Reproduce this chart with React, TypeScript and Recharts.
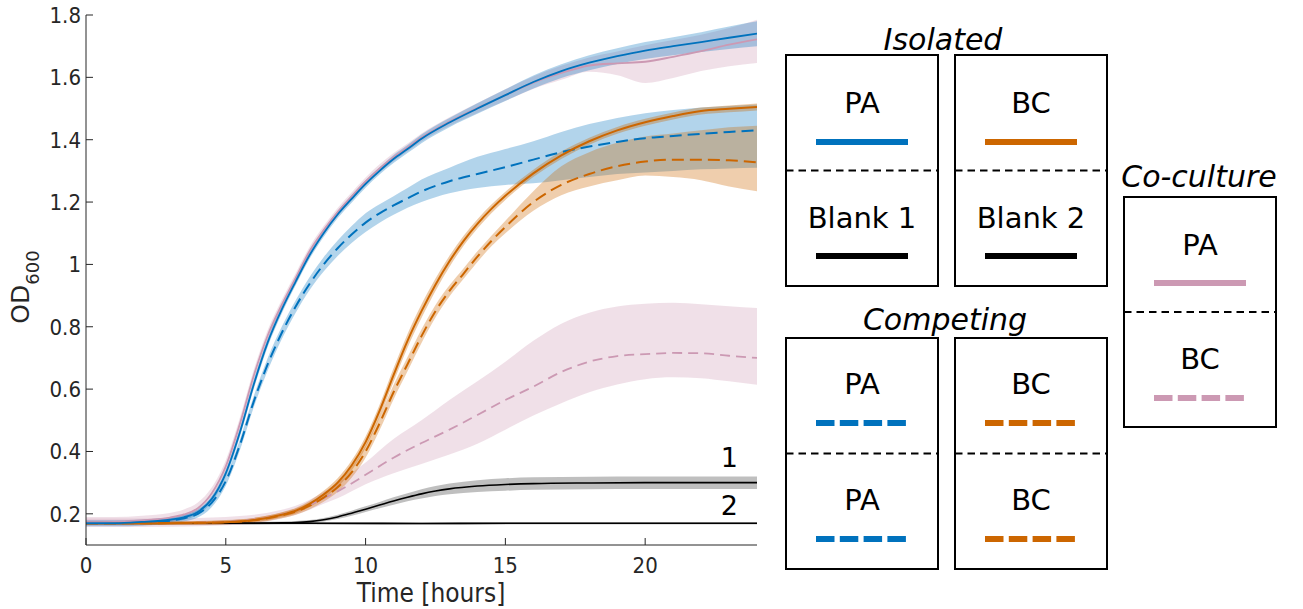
import React from 'react';
import { ComposedChart, Line, Area, XAxis, YAxis } from 'recharts';

// ---------- data ----------
const xTicks = [0, 5, 10, 15, 20];
const yTicks = [0.2, 0.4, 0.6, 0.8, 1.0, 1.2, 1.4, 1.6, 1.8];

// PA series time grid
const tPA = [0, 1, 2, 3, 3.5, 4, 4.5, 5, 5.5, 6, 6.5, 7, 7.5, 8, 8.5, 9, 9.5, 10, 10.5, 11, 11.5, 12, 13, 14, 15, 16, 17, 18, 19, 20, 21, 22, 23, 24];
// Isolated PA (blue solid)
const paIso = [0.17, 0.17, 0.174, 0.181, 0.189, 0.206, 0.248, 0.33, 0.46, 0.615, 0.75, 0.855, 0.945, 1.03, 1.1, 1.16, 1.21, 1.258, 1.3, 1.338, 1.37, 1.403, 1.455, 1.5, 1.543, 1.585, 1.62, 1.647, 1.668, 1.686, 1.7, 1.713, 1.727, 1.74];
const paIsoSpread = [0.006, 0.006, 0.006, 0.007, 0.008, 0.009, 0.01, 0.012, 0.014, 0.015, 0.014, 0.013, 0.012, 0.012, 0.012, 0.012, 0.012, 0.012, 0.012, 0.013, 0.013, 0.014, 0.015, 0.017, 0.019, 0.021, 0.022, 0.024, 0.025, 0.027, 0.029, 0.032, 0.036, 0.04];
// Co-culture PA (pink solid)
const paCo = [0.173, 0.174, 0.179, 0.188, 0.198, 0.218, 0.266, 0.352, 0.487, 0.643, 0.772, 0.87, 0.957, 1.043, 1.11, 1.168, 1.218, 1.266, 1.308, 1.344, 1.375, 1.407, 1.458, 1.502, 1.543, 1.583, 1.614, 1.638, 1.645, 1.65, 1.666, 1.684, 1.705, 1.722];
const paCoHi = [0.19, 0.19, 0.194, 0.203, 0.214, 0.236, 0.285, 0.372, 0.507, 0.662, 0.79, 0.886, 0.972, 1.057, 1.123, 1.181, 1.231, 1.279, 1.321, 1.357, 1.388, 1.42, 1.472, 1.518, 1.562, 1.603, 1.637, 1.664, 1.683, 1.703, 1.72, 1.737, 1.758, 1.785];
const paCoLo = [0.163, 0.163, 0.166, 0.174, 0.183, 0.201, 0.248, 0.333, 0.468, 0.625, 0.756, 0.856, 0.943, 1.029, 1.097, 1.155, 1.205, 1.253, 1.295, 1.331, 1.362, 1.394, 1.444, 1.486, 1.525, 1.563, 1.592, 1.618, 1.607, 1.582, 1.598, 1.62, 1.636, 1.646];
// Competing PA (blue dashed)
const paComp = [0.17, 0.17, 0.172, 0.178, 0.186, 0.2, 0.236, 0.305, 0.42, 0.56, 0.68, 0.78, 0.865, 0.938, 1.0, 1.052, 1.096, 1.134, 1.164, 1.189, 1.212, 1.234, 1.267, 1.29, 1.312, 1.336, 1.36, 1.378, 1.393, 1.405, 1.412, 1.419, 1.425, 1.43];
const paCompHi = [0.18, 0.18, 0.182, 0.19, 0.198, 0.213, 0.25, 0.32, 0.437, 0.578, 0.7, 0.8, 0.885, 0.96, 1.023, 1.077, 1.123, 1.164, 1.193, 1.219, 1.245, 1.272, 1.31, 1.345, 1.37, 1.395, 1.425, 1.45, 1.47, 1.485, 1.495, 1.503, 1.508, 1.513];
const paCompLo = [0.16, 0.16, 0.162, 0.168, 0.175, 0.188, 0.222, 0.29, 0.403, 0.542, 0.66, 0.76, 0.845, 0.918, 0.977, 1.027, 1.069, 1.104, 1.134, 1.159, 1.182, 1.2, 1.228, 1.245, 1.255, 1.26, 1.27, 1.28, 1.29, 1.295, 1.3, 1.305, 1.308, 1.31];

// BC series time grid
const tBC = [0, 2, 4, 5, 6, 7, 7.5, 8, 8.5, 9, 9.5, 10, 10.5, 11, 11.5, 12, 12.5, 13, 13.5, 14, 14.5, 15, 16, 17, 18, 19, 20, 21, 22, 23, 24];
// Isolated BC (orange solid)
const bcIso = [0.17, 0.17, 0.171, 0.173, 0.18, 0.197, 0.21, 0.232, 0.262, 0.3, 0.355, 0.43, 0.53, 0.645, 0.755, 0.85, 0.935, 1.01, 1.075, 1.13, 1.178, 1.22, 1.292, 1.35, 1.395, 1.43, 1.456, 1.476, 1.492, 1.499, 1.505];
const bcIsoSpread = [0.005, 0.005, 0.005, 0.006, 0.007, 0.008, 0.009, 0.01, 0.012, 0.014, 0.016, 0.018, 0.02, 0.022, 0.022, 0.022, 0.02, 0.018, 0.016, 0.015, 0.014, 0.013, 0.012, 0.012, 0.011, 0.011, 0.011, 0.011, 0.011, 0.011, 0.011];
// Competing BC (orange dashed)
const bcComp = [0.17, 0.17, 0.171, 0.173, 0.179, 0.195, 0.207, 0.226, 0.252, 0.285, 0.333, 0.4, 0.49, 0.59, 0.68, 0.77, 0.85, 0.915, 0.97, 1.025, 1.075, 1.12, 1.2, 1.255, 1.29, 1.315, 1.33, 1.336, 1.336, 1.334, 1.327];
const bcCompHi = [0.176, 0.176, 0.177, 0.18, 0.187, 0.204, 0.217, 0.237, 0.265, 0.3, 0.35, 0.42, 0.512, 0.613, 0.703, 0.792, 0.87, 0.933, 0.987, 1.042, 1.092, 1.14, 1.235, 1.315, 1.36, 1.39, 1.41, 1.42, 1.43, 1.44, 1.445];
const bcCompLo = [0.164, 0.164, 0.165, 0.166, 0.171, 0.186, 0.197, 0.215, 0.239, 0.27, 0.316, 0.38, 0.468, 0.567, 0.657, 0.748, 0.83, 0.897, 0.953, 1.008, 1.058, 1.1, 1.172, 1.222, 1.25, 1.27, 1.285, 1.28, 1.27, 1.25, 1.235];

// Co-culture BC (pink dashed)
const tCoBC = [0, 2, 4, 5, 6, 7, 7.5, 8, 8.5, 9, 10, 11, 12, 13, 14, 15, 16, 17, 18, 19, 20, 21, 22, 23, 24];
const bcCo = [0.17, 0.17, 0.172, 0.175, 0.182, 0.198, 0.21, 0.228, 0.25, 0.272, 0.325, 0.38, 0.427, 0.47, 0.517, 0.565, 0.608, 0.655, 0.688, 0.706, 0.712, 0.716, 0.715, 0.707, 0.7];
const bcCoHi = [0.185, 0.185, 0.187, 0.19, 0.197, 0.213, 0.226, 0.245, 0.27, 0.3, 0.365, 0.44, 0.5, 0.565, 0.625, 0.688, 0.755, 0.81, 0.845, 0.865, 0.874, 0.877, 0.872, 0.866, 0.86];
const bcCoLo = [0.158, 0.158, 0.16, 0.163, 0.169, 0.185, 0.196, 0.213, 0.232, 0.25, 0.295, 0.33, 0.36, 0.39, 0.425, 0.47, 0.515, 0.555, 0.59, 0.615, 0.632, 0.638, 0.635, 0.625, 0.614];

// Blank 1 (black)
const tB1 = [0, 2, 4, 6, 7, 7.5, 8, 8.5, 9, 9.5, 10, 10.5, 11, 11.5, 12, 12.5, 13, 14, 15, 16, 18, 20, 22, 24];
const blank1 = [0.17, 0.17, 0.17, 0.17, 0.171, 0.172, 0.175, 0.181, 0.19, 0.202, 0.215, 0.228, 0.241, 0.253, 0.264, 0.273, 0.28, 0.289, 0.294, 0.297, 0.299, 0.3, 0.3, 0.3];
const blank1Spread = [0.004, 0.004, 0.004, 0.004, 0.004, 0.005, 0.005, 0.006, 0.007, 0.008, 0.009, 0.01, 0.012, 0.013, 0.015, 0.016, 0.017, 0.019, 0.02, 0.02, 0.02, 0.02, 0.02, 0.02];
// Blank 2 (black)
const tB2 = [0, 4, 8, 12, 16, 20, 24];
const blank2 = [0.17, 0.17, 0.17, 0.169, 0.17, 0.17, 0.17];
const blank2Spread = [0.004, 0.004, 0.004, 0.004, 0.004, 0.004, 0.004];

// ---------- styles ----------
const BLUE = '#0072BD';
const ORANGE = '#CC6600';
const PINK = '#CC99B3';
const AX = '#262626';
const FONT_AX = "'DejaVu Sans Condensed', 'DejaVu Sans', sans-serif";
const FONT_LG = "'DejaVu Sans', sans-serif";

type Row = { t: number; v: number; r: [number, number] };
const build = (ts: number[], vs: number[], lo: number[], hi: number[]): Row[] =>
  ts.map((t, i) => ({ t, v: vs[i], r: [lo[i], hi[i]] as [number, number] }));
const buildSym = (ts: number[], vs: number[], sp: number[]): Row[] =>
  ts.map((t, i) => ({ t, v: vs[i], r: [vs[i] - sp[i], vs[i] + sp[i]] as [number, number] }));

const dPaIso = buildSym(tPA, paIso, paIsoSpread);
const dPaCo = build(tPA, paCo, paCoLo, paCoHi);
const dPaComp = build(tPA, paComp, paCompLo, paCompHi);
const dBcIso = buildSym(tBC, bcIso, bcIsoSpread);
const dBcComp = build(tBC, bcComp, bcCompLo, bcCompHi);
const dBcCo = build(tCoBC, bcCo, bcCoLo, bcCoHi);
const dB1 = buildSym(tB1, blank1, blank1Spread);
const dB2 = buildSym(tB2, blank2, blank2Spread);

const fmtY = (v: number) => String(Number(v.toFixed(1)));

const band = (data: Row[], color: string, op: number, key: string) => (
  <Area
    key={key}
    data={data}
    dataKey="r"
    type="monotone"
    stroke="none"
    fill={color}
    fillOpacity={op}
    isAnimationActive={false}
    dot={false}
    activeDot={false}
  />
);

const line = (data: Row[], color: string, w: number, dash: string | undefined, key: string) => (
  <Line
    key={key}
    data={data}
    dataKey="v"
    type="monotone"
    stroke={color}
    strokeWidth={w}
    strokeDasharray={dash}
    dot={false}
    activeDot={false}
    isAnimationActive={false}
  />
);

const LegendBox = ({ x, y, w, h }: { x: number; y: number; w: number; h: number }) => (
  <g>
    <rect x={x} y={y} width={w} height={h} fill="#fff" stroke="#000" strokeWidth={2} />
    <line x1={x} x2={x + w} y1={y + h / 2} y2={y + h / 2} stroke="#000" strokeWidth={2} strokeDasharray="7.5 5" />
  </g>
);

const LgText = ({ x, y, s }: { x: number; y: number; s: string }) => (
  <text x={x} y={y} textAnchor="middle" fontFamily={FONT_LG} fontSize={29} fill="#000">{s}</text>
);
const LgTitle = ({ x, y, s }: { x: number; y: number; s: string }) => (
  <text x={x} y={y} textAnchor="middle" fontFamily={FONT_LG} fontStyle="italic" fontSize={30} fill="#000">{s}</text>
);
const LgLine = ({ cx, y, color, dashed }: { cx: number; y: number; color: string; dashed?: boolean }) => (
  <line x1={cx - 46} x2={cx + 46} y1={y} y2={y} stroke={color} strokeWidth={6} strokeDasharray={dashed ? '18.5 5.3' : undefined} />
);

export default function App() {
  return (
    <div style={{ position: 'absolute', left: 0, top: 0, width: 1303, height: 609, background: '#fff' }}>
      <div style={{ position: 'absolute', left: 0, top: 0 }}>
        <ComposedChart width={780} height={609} margin={{ top: 15, right: 23, bottom: 0, left: 0 }}>
          <XAxis
            type="number"
            dataKey="t"
            domain={[0, 24]}
            ticks={xTicks}
            allowDataOverflow
            height={64}
            tickSize={-7}
            tickMargin={19}
            stroke={AX}
            tick={{ fontSize: 22, fill: AX, fontFamily: FONT_AX }}
          />
          <XAxis
            xAxisId="top"
            orientation="top"
            type="number"
            domain={[0, 24]}
            ticks={xTicks}
            allowDataOverflow
            height={0}
            tickSize={-7}
            tickFormatter={() => ''}
            stroke={AX}
          />
          <YAxis
            type="number"
            domain={[0.1, 1.8]}
            ticks={yTicks}
            allowDataOverflow
            width={86}
            tickSize={-7}
            tickMargin={12}
            tickFormatter={fmtY}
            stroke={AX}
            tick={{ fontSize: 22, fill: AX, fontFamily: FONT_AX }}
          />
          <YAxis
            yAxisId="right"
            orientation="right"
            type="number"
            domain={[0.1, 1.8]}
            ticks={yTicks}
            allowDataOverflow
            width={0}
            tickSize={-7}
            tickFormatter={() => ''}
            stroke={AX}
          />
          {band(dB2, '#000', 0.22, 'b2b')}
          {band(dB1, '#000', 0.25, 'b1b')}
          {band(dBcCo, PINK, 0.3, 'bcCob')}
          {band(dPaComp, BLUE, 0.3, 'paCompb')}
          {band(dBcComp, ORANGE, 0.32, 'bcCompb')}
          {band(dBcIso, ORANGE, 0.35, 'bcIsob')}
          {band(dPaCo, PINK, 0.3, 'paCob')}
          {band(dPaIso, BLUE, 0.3, 'paIsob')}
          {line(dB2, '#000', 1.6, undefined, 'b2')}
          {line(dB1, '#000', 1.6, undefined, 'b1')}
          {line(dBcCo, PINK, 1.8, '10 6', 'bcCo')}
          {line(dPaComp, BLUE, 2, '12 6', 'paComp')}
          {line(dBcComp, ORANGE, 2, '12 6', 'bcComp')}
          {line(dBcIso, ORANGE, 2, undefined, 'bcIso')}
          {line(dPaCo, PINK, 1.8, undefined, 'paCo')}
          {line(dPaIso, BLUE, 1.8, undefined, 'paIso')}
        </ComposedChart>
      </div>
      <svg width={1303} height={609} style={{ position: 'absolute', left: 0, top: 0, pointerEvents: 'none' }}>
        {/* axis labels */}
        <text x={431} y={602} textAnchor="middle" fontFamily={FONT_AX} fontSize={26} fill={AX}>Time [hours]</text>
        <text transform="translate(29,287) rotate(-90)" textAnchor="middle" fontFamily={FONT_LG} fill={AX}>
          <tspan fontSize={25}>OD</tspan>
          <tspan fontSize={18} dy={10}>600</tspan>
        </text>
        {/* blank labels */}
        <text x={738} y={467} textAnchor="end" fontFamily={FONT_LG} fontSize={27} fill="#000">1</text>
        <text x={738} y={515} textAnchor="end" fontFamily={FONT_LG} fontSize={27} fill="#000">2</text>

        {/* Isolated */}
        <LgTitle x={943} y={50} s="Isolated" />
        <LegendBox x={786} y={55} w={152} h={231} />
        <LegendBox x={955} y={55} w={152} h={231} />
        <LgText x={862} y={113} s="PA" />
        <LgLine cx={862} y={142} color={BLUE} />
        <LgText x={862} y={228} s="Blank 1" />
        <LgLine cx={862} y={256} color="#000" />
        <LgText x={1031} y={113} s="BC" />
        <LgLine cx={1031} y={142} color={ORANGE} />
        <LgText x={1031} y={228} s="Blank 2" />
        <LgLine cx={1031} y={256} color="#000" />

        {/* Competing */}
        <LgTitle x={945} y={330} s="Competing" />
        <LegendBox x={786} y={338} w={152} h={231} />
        <LegendBox x={955} y={338} w={152} h={231} />
        <LgText x={862} y={394} s="PA" />
        <LgLine cx={862} y={423} color={BLUE} dashed />
        <LgText x={862} y={510} s="PA" />
        <LgLine cx={862} y={539} color={BLUE} dashed />
        <LgText x={1031} y={394} s="BC" />
        <LgLine cx={1031} y={423} color={ORANGE} dashed />
        <LgText x={1031} y={510} s="BC" />
        <LgLine cx={1031} y={539} color={ORANGE} dashed />

        {/* Co-culture */}
        <LgTitle x={1199} y={187} s="Co-culture" />
        <LegendBox x={1124} y={197} w={152} h={230} />
        <LgText x={1200} y={255} s="PA" />
        <LgLine cx={1200} y={283} color={PINK} />
        <LgText x={1200} y={369} s="BC" />
        <LgLine cx={1200} y={398} color={PINK} dashed />
      </svg>
    </div>
  );
}
